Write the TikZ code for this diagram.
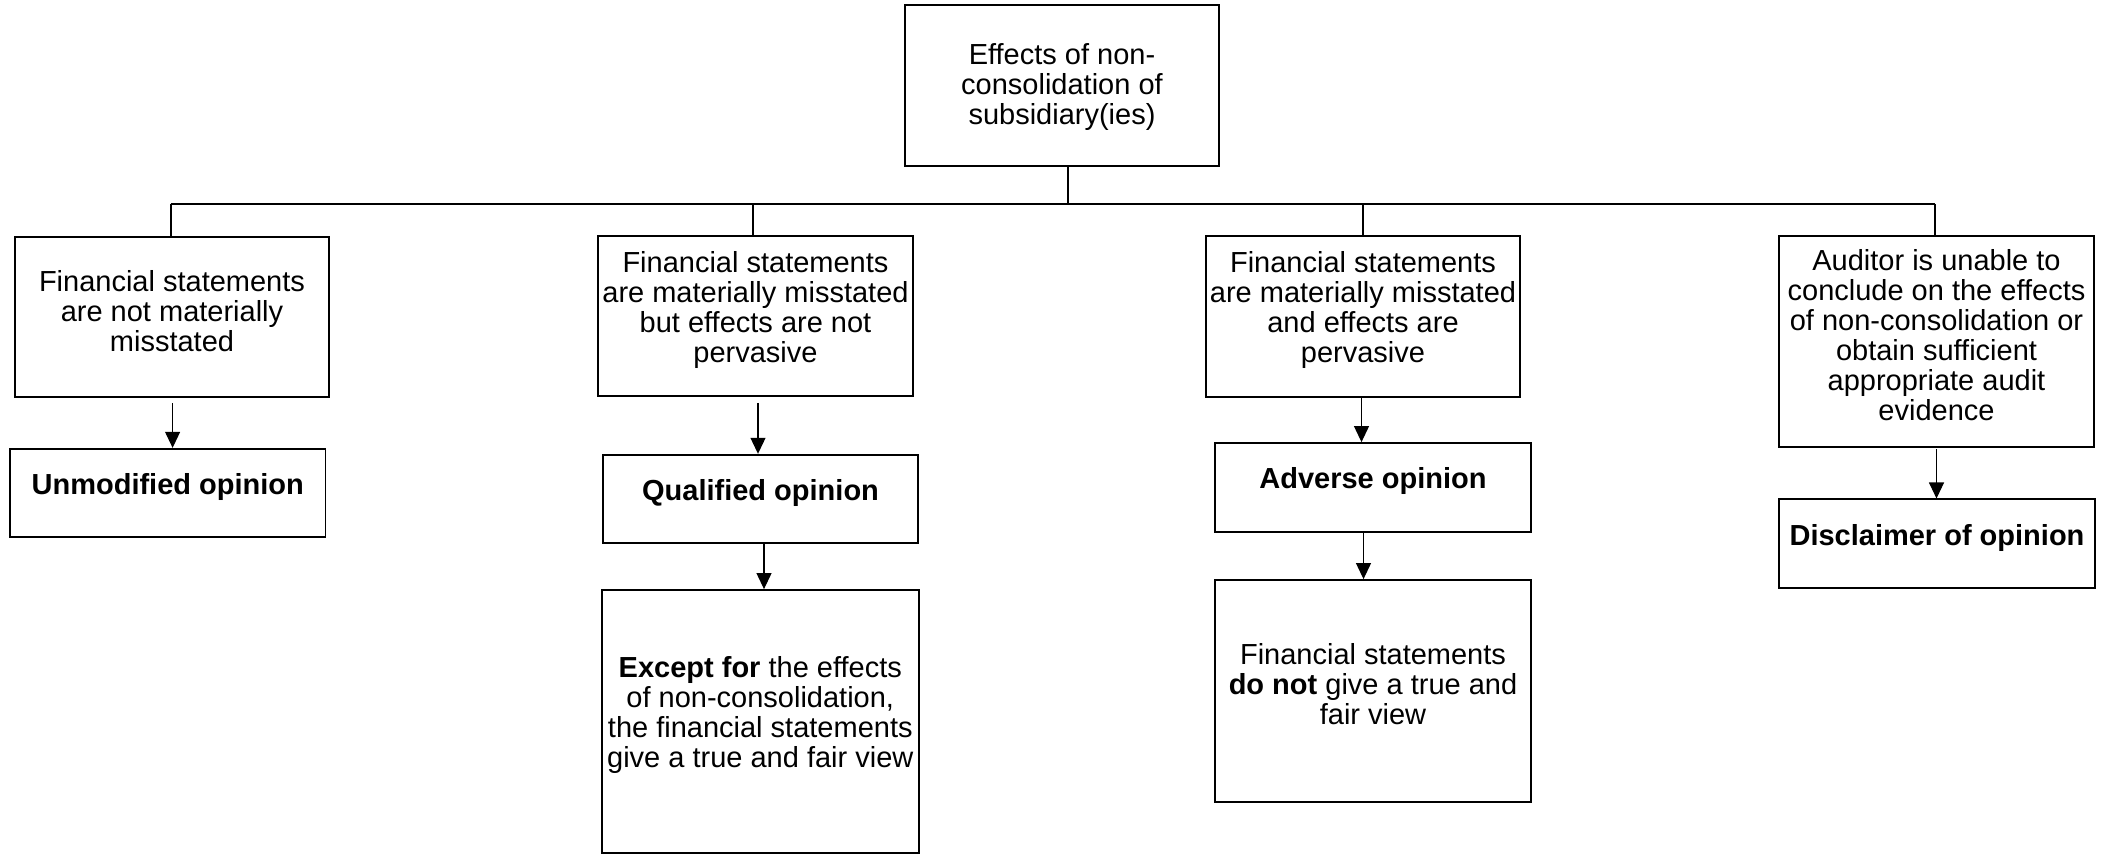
\documentclass[tikz,border=0pt]{standalone}
\usepackage{fontspec}
\setmainfont{Liberation Sans}
\usetikzlibrary{arrows.meta}
\newcommand{\fsz}{\fontsize{14.5pt}{15pt}\selectfont}
\tikzset{
  box/.style={draw, line width=0.9pt, inner sep=0pt, rectangle},
  thickbox/.style={box, line width=1.2pt},
  txt/.style={align=center, inner sep=0pt, font=\fsz},
  arr/.style={-{Triangle[length=8pt,width=7.5pt]}, line width=0.55pt},
  bus/.style={line width=1.25pt},
  drop/.style={line width=1pt}
}
\begin{document}
\begin{tikzpicture}[x=0.5pt,y=-0.5pt]
\useasboundingbox (0,0) rectangle (2105,854);
% boxes
\node[thickbox, minimum width=157pt, minimum height=80.5pt] (t) at (1062,85.5) {};
\node[txt] (tt) at ([yshift=-1pt]t.center) {Effects of non-\\consolidation of\\subsidiary(ies)};

\node[thickbox, minimum width=157pt, minimum height=80pt] (b1) at (172,317) {};
\node[txt] (b1t) at ([yshift=3pt]b1.center) {Financial statements\\are not materially\\misstated};

\node[box, minimum width=157.5pt, minimum height=80pt] (b2) at (755.5,316) {};
\node[txt] (b2t) at ([yshift=3pt]b2.center) {Financial statements\\are materially misstated\\but effects are not\\pervasive};

\node[thickbox, minimum width=157pt, minimum height=80.5pt] (b3) at (1363,316.5) {};
\node[txt] (b3t) at ([yshift=3pt]b3.center) {Financial statements\\are materially misstated\\and effects are\\pervasive};

\node[box, minimum width=157.5pt, minimum height=105.5pt] (b4) at (1936.5,341.5) {};
\node[txt] (b4t) at ([yshift=3pt]b4.center) {Auditor is unable to\\conclude on the effects\\of non-consolidation or\\obtain sufficient\\appropriate audit\\evidence};

\node[box, minimum width=157.75pt, minimum height=44.25pt] (u) at (167.75,493) {};
\node[txt] (ut) at ([yshift=3pt]u.center) {\textbf{Unmodified opinion}};

\node[thickbox, minimum width=157.5pt, minimum height=44pt] (q) at (760.5,499) {};
\node[txt] (qt) at ([yshift=3pt]q.center) {\textbf{Qualified opinion}};

\node[box, minimum width=158.3pt, minimum height=131.5pt] (e) at (760.3,721.5) {};
\node[txt] (et) at ([yshift=3pt]e.center) {\textbf{Except for} the effects\\of non-consolidation,\\the financial statements\\give a true and fair view};

\node[box, minimum width=157.7pt, minimum height=44.5pt] (a) at (1373,487.5) {};
\node[txt] (at) at ([yshift=3pt]a.center) {\textbf{Adverse opinion}};

\node[box, minimum width=158.25pt, minimum height=111pt] (d) at (1373,691) {};
\node[txt] (dt) at ([yshift=3.5pt]d.center) {Financial statements\\\textbf{do not} give a true and\\fair view};

\node[box, minimum width=158pt, minimum height=44.3pt] (dc) at (1937,543.7) {};
\node[txt] (dct) at ([yshift=3pt]dc.center) {\textbf{Disclaimer of opinion}};

% bus
\coordinate (busL) at (170.5,204);
\coordinate (busR) at (1934.6,204);
\draw[bus] (busL) -- (busR);
\draw[drop] ([xshift=3pt]t.south) -- ([xshift=3pt]t.south |- busL);
\draw[drop] (busL) -- (busL |- b1.north);
\draw[drop] ([xshift=-1.25pt]b2.north |- busL) -- ([xshift=-1.25pt]b2.north);
\draw[drop] (b3.north |- busL) -- (b3.north);
\draw[drop] (busR) -- (busR |- b4.north);

% arrows
\draw[arr] ([xshift=0.3pt,yshift=-2.5pt]b1.south) -- ([xshift=0.3pt]b1.south |- u.north);
\draw[arr] ([xshift=1.25pt,yshift=-3pt]b2.south) -- ([xshift=1.25pt]b2.south |- q.north);
\draw[arr] ([xshift=1.75pt]q.south) -- ([xshift=1.75pt]q.south |- e.north);
\draw[arr] ([xshift=-0.75pt]b3.south) -- ([xshift=-0.75pt]b3.south |- a.north);
\draw[arr] ([xshift=-4.75pt]a.south) -- ([xshift=-4.75pt]a.south |- d.north);
\draw[arr] ([yshift=-0.75pt]b4.south) -- (b4.south |- dc.north);
\end{tikzpicture}
\end{document}
